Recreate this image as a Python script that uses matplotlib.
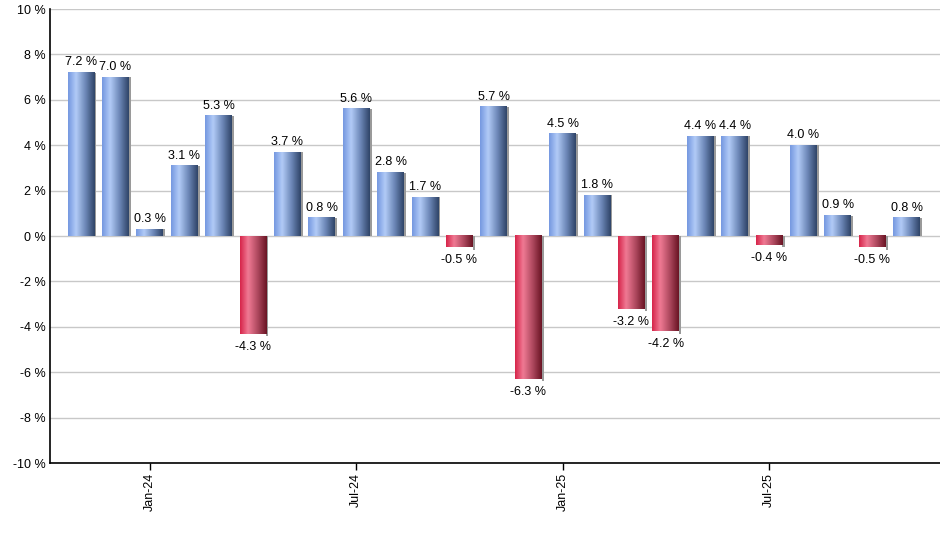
import numpy as np
import matplotlib.pyplot as plt
from matplotlib.colors import LinearSegmentedColormap

# monthly returns, Nov-23 .. Nov-25
months = ['Nov-23', 'Dec-23', 'Jan-24', 'Feb-24', 'Mar-24', 'Apr-24', 'May-24',
          'Jun-24', 'Jul-24', 'Aug-24', 'Sep-24', 'Oct-24', 'Nov-24', 'Dec-24',
          'Jan-25', 'Feb-25', 'Mar-25', 'Apr-25', 'May-25', 'Jun-25', 'Jul-25',
          'Aug-25', 'Sep-25', 'Oct-25', 'Nov-25']
returns = [7.2, 7.0, 0.3, 3.1, 5.3, -4.3, 3.7, 0.8, 5.6, 2.8, 1.7, -0.5, 5.7,
           -6.3, 4.5, 1.8, -3.2, -4.2, 4.4, 4.4, -0.4, 4.0, 0.9, -0.5, 0.8]
tick_labels = ['Jan-24', 'Jul-24', 'Jan-25', 'Jul-25']
yticks = [-10, -8, -6, -4, -2, 0, 2, 4, 6, 8, 10]

plt.rcParams['font.family'] = ['Liberation Sans', 'DejaVu Sans']

blue_cm = LinearSegmentedColormap.from_list(
    'b', [(0, '#7598e0'), (0.3, '#b2cbf7'), (0.65, '#6d88b8'), (1, '#2f4468')])
red_cm = LinearSegmentedColormap.from_list(
    'r', [(0, '#d6254a'), (0.3, '#f07a94'), (0.65, '#b04a60'), (1, '#6a1424')])
grad = np.linspace(0, 1, 64).reshape(1, -1)

fig = plt.figure(figsize=(9.4, 5.5), dpi=100)
ax = fig.add_axes([0.0532, 0.158, 0.9468, 0.8255])

x = np.arange(len(returns))
w = 0.78
bars = ax.bar(x, returns, width=w, color='none', edgecolor='none', zorder=3)
for b, v in zip(bars, returns):
    x0 = b.get_x()
    y0, y1 = sorted([0, v])
    # little shadow on the right side
    ax.fill_between([x0 + w, x0 + w + 0.06], y0 - (0.1 if v < 0 else 0), y1,
                    color='#9a9a9a', lw=0, zorder=2)
    ax.imshow(grad, cmap=blue_cm if v >= 0 else red_cm, aspect='auto',
              extent=[x0, x0 + w, y0, y1], zorder=3, interpolation='bicubic')
    if v >= 0:
        ax.annotate(f'{v:.1f} %', (b.get_x() + w / 2, v), xytext=(0, 3),
                    textcoords='offset points', ha='center', va='bottom', fontsize=9)
    else:
        ax.annotate(f'{v:.1f} %', (b.get_x() + w / 2, v), xytext=(0, -5),
                    textcoords='offset points', ha='center', va='top', fontsize=9)

ax.set_xlim(-0.9, 24.97)
ax.set_ylim(-10, 10)
ax.set_yticks(yticks)
ax.set_yticklabels([f'{t} %' for t in yticks], fontsize=9)
ax.set_xticks([months.index(m) for m in tick_labels])
ax.set_xticklabels(tick_labels, rotation=90, fontsize=9)
ax.tick_params(axis='y', length=0, pad=3)
ax.tick_params(axis='x', length=5, width=1, pad=2)
ax.grid(axis='y', color='#c8c8c8', lw=1, zorder=0)
for s in ['top', 'right']:
    ax.spines[s].set_visible(False)
ax.spines['left'].set_linewidth(1.2)
ax.spines['bottom'].set_linewidth(1.2)

plt.savefig('out.png', dpi=100)
